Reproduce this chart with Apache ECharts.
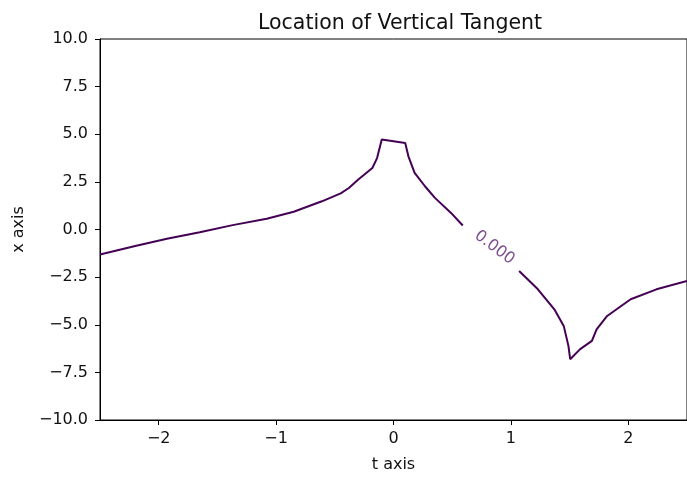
<!DOCTYPE html>
<html>
<head>
<meta charset="utf-8">
<script src="https://cdn.jsdelivr.net/npm/echarts@6/dist/echarts.min.js"></script>
<style>
  html, body { margin: 0; padding: 0; background: #fff; }
  #chart { width: 687px; height: 478px; }
</style>
</head>
<body>
<div id="chart"></div>
<script>
// contour line, split in two where the clabel sits
const tLeft = [-2.5, -2.2, -1.93, -1.65, -1.37, -1.08, -0.85, -0.61, -0.45, -0.38, -0.3, -0.18, -0.14, -0.1, 0.1, 0.127, 0.18, 0.268, 0.353, 0.49, 0.59];
const xLeft = [-1.31, -0.87, -0.49, -0.14, 0.23, 0.56, 0.93, 1.48, 1.9, 2.18, 2.62, 3.23, 3.75, 4.72, 4.54, 3.84, 2.97, 2.27, 1.66, 0.87, 0.21];
const tRight = [1.07, 1.23, 1.37, 1.45, 1.49, 1.505, 1.59, 1.69, 1.73, 1.82, 2.02, 2.24, 2.5];
const xRight = [-2.18, -3.14, -4.19, -5.06, -6.11, -6.81, -6.28, -5.85, -5.24, -4.54, -3.66, -3.14, -2.7];

const labelPos = [0.86, -0.95];
const labelText = '0.000';

const xTicks = [-2, -1, 0, 1, 2];

const lineColor = '#440154';
const font = 'DejaVu Sans';

const pairs = (a, b) => a.map((v, i) => [v, b[i]]);
const minus = v => String(v).replace('-', '\u2212');

const chart = echarts.init(document.getElementById('chart'));
chart.setOption({
  animation: false,
  title: {
    text: 'Location of Vertical Tangent',
    left: 395, top: 8, textAlign: 'center',
    textStyle: { fontFamily: font, fontSize: 20.5, fontWeight: 'normal', color: '#111' }
  },
  grid: { left: 100, top: 39, width: 591, height: 382, show: true, borderColor: '#000', borderWidth: 1 },
  xAxis: {
    type: 'value', min: -2.5, max: 2.5, interval: 0.5,
    name: 't axis', nameLocation: 'middle', nameGap: 37,
    nameTextStyle: { fontFamily: font, fontSize: 16, color: '#111' },
    axisLine: { onZero: false, lineStyle: { color: '#000', width: 1 } },
    axisTick: { length: 5, lineStyle: { color: '#000' }, customValues: xTicks },
    axisLabel: { fontFamily: font, fontSize: 16, color: '#111', margin: 11, customValues: xTicks, formatter: minus },
    splitLine: { show: false }
  },
  yAxis: {
    type: 'value', min: -10, max: 10, interval: 2.5,
    name: 'x axis', nameLocation: 'middle', nameGap: 73,
    nameTextStyle: { fontFamily: font, fontSize: 16, color: '#111' },
    axisLine: { show: true, onZero: false, lineStyle: { color: '#000', width: 1 } },
    axisTick: { show: true, length: 5, lineStyle: { color: '#000' } },
    axisLabel: { fontFamily: font, fontSize: 16, color: '#111', margin: 12, formatter: v => minus(v.toFixed(1)) },
    splitLine: { show: false }
  },
  series: [
    { type: 'line', data: pairs(tLeft, xLeft), showSymbol: false, lineStyle: { color: lineColor, width: 2 } },
    { type: 'line', data: pairs(tRight, xRight), showSymbol: false, lineStyle: { color: lineColor, width: 2 } },
    {
      type: 'scatter', data: [labelPos], symbolSize: 0,
      label: { show: true, position: 'inside', formatter: labelText, rotate: -37,
        fontFamily: font, fontSize: 16, color: '#5a2170' }
    }
  ]
});
</script>
</body>
</html>
